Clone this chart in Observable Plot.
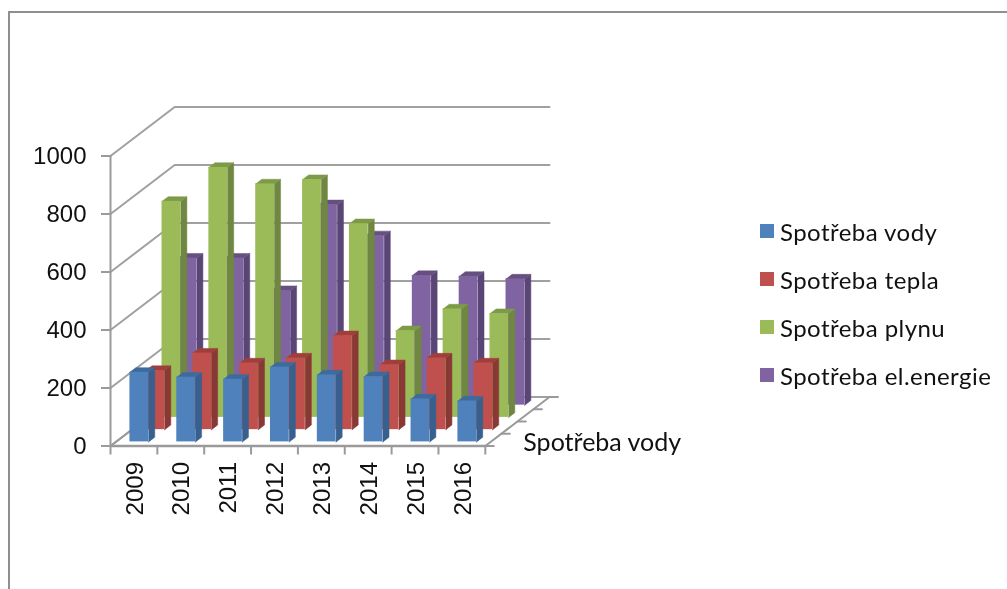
<!DOCTYPE html>
<html>
<head>
<meta charset="utf-8">
<script src="https://cdn.jsdelivr.net/npm/d3@7"></script>
<script src="https://cdn.jsdelivr.net/npm/@observablehq/plot@0.6"></script>
<style>
html,body{margin:0;padding:0;background:#fff;overflow:hidden;width:1007px;height:589px}
#frame{position:absolute;left:8px;top:11px;width:1200px;height:800px;border:2px solid #8f8f8f;box-sizing:border-box}
#chart{position:absolute;left:0;top:0;filter:blur(0.45px)}
#chart svg{background:transparent;display:block}
#legend{position:absolute;left:760px;top:207px;font-family:Lato,sans-serif;font-size:24px;letter-spacing:0.45px;color:#111;filter:blur(0.45px)}
#legend div{display:flex;align-items:center;height:48px;white-space:nowrap}
#legend i{display:inline-block;width:14px;height:14px;margin-right:6px}
</style>
</head>
<body>
<div id="frame"></div>
<div id="chart"></div>
<div id="legend"></div>
<script>
const years = ["2009","2010","2011","2012","2013","2014","2015","2016"];
const seriesNames = ["Spotřeba vody","Spotřeba tepla","Spotřeba plynu","Spotřeba el.energie"];
const voda   = [240,223,216,258,231,225,148,141];
const teplo  = [204,264,230,247,324,224,247,230];
const plyn   = [745,862,805,820,668,299,374,358];
const energie= [507,507,395,691,584,447,444,435];
const yTicks = [0,200,400,600,800,1000];
const depthTicks = [0,0.25,0.5,0.75,1];
const frontColors = ["#4f81bd","#c0504d","#9bbb59","#8064a2"];
const sideColors  = ["#38608f","#8a3836","#6f8740","#5a4676"];
const topColors   = ["#3f6a9c","#9e3f3c","#7c9a47","#66507f"];
const values = [voda,teplo,plyn,energie];

// oblique projection: depth (0 front .. 1 back) shifts the point along the floor diagonal
const depthX = 1.37;    // in category units
const depthY = 169;     // in value units
const px = (c,d) => c + d*depthX;
const py = (v,d) => v + d*depthY;
const nCat = years.length, nSer = seriesNames.length;
const barW = 0.4, barD = 0.38, barOffset = 0.335;  // bar width (category units), depth and offset (series slot units)

function poly(points,id,color){ return points.map(([c,d,v])=>({x:px(c,d),y:py(v,d),id,color})); }

const barMarks = [];
for (let s=nSer-1;s>=0;s--){
  const rows=[], fronts=[];
  values[s].forEach((v,i)=>{
    const c0=i+0.5-barW/2, c1=i+0.5+barW/2;
    const d0=(s+barOffset)/nSer, d1=(s+barOffset+barD)/nSer;
    rows.push(...poly([[c1,d0,0],[c1,d1,0],[c1,d1,v],[c1,d0,v],[c1,d0,0]],`s${i}`,sideColors[s]));
    rows.push(...poly([[c0,d0,v],[c1,d0,v],[c1,d1,v],[c0,d1,v],[c0,d0,v]],`t${i}`,topColors[s]));
    fronts.push({x1:px(c0,d0),x2:px(c1,d0),y1:py(0,d0),y2:py(v,d0)});
  });
  barMarks.push(
    Plot.line(rows,{x:"x",y:"y",z:"id",fill:d=>d.color,stroke:d=>d.color,strokeWidth:0.5,curve:"linear"}),
    Plot.rect(fronts,{x1:"x1",x2:"x2",y1:"y1",y2:"y2",fill:frontColors[s]})
  );
}

const gridColor="#a0a0a0", axisColor="#9a9a9a";
const wallRows=[];
yTicks.forEach(v=>{
  wallRows.push(...poly([[0,0,v],[0,1,v],[nCat,1,v]],`g${v}`));
});
const floorRows=poly([[0,0,0],[0,1,0]],"fl").concat(poly([[nCat,0,0],[nCat,1,0]],"fr"));
const depthTickRows=depthTicks.flatMap(d=>poly([[nCat,d,0],[nCat+0.18,d,0]],`d${d}`));

const chart = Plot.plot({
  width:1007,height:589,
  marginLeft:110,marginRight:458,marginTop:106.5,marginBottom:143.5,
  x:{type:"linear",domain:[0,nCat+depthX],axis:null},
  y:{type:"linear",domain:[0,1000+depthY],axis:null},
  marks:[
    Plot.line(wallRows,{x:"x",y:"y",z:"id",stroke:gridColor,strokeWidth:2}),
    Plot.line(floorRows,{x:"x",y:"y",z:"id",stroke:axisColor,strokeWidth:2}),
    Plot.line(depthTickRows,{x:"x",y:"y",z:"id",stroke:axisColor,strokeWidth:2}),
    ...barMarks,
    Plot.line([[0,0],[0,1000]],{x:d=>d[0],y:d=>d[1],stroke:axisColor,strokeWidth:2}),
    Plot.line([[0,0],[nCat,0]],{x:d=>d[0],y:d=>d[1],stroke:axisColor,strokeWidth:2.5}),
    Plot.axisY({ticks:yTicks,tickSize:9,tickPadding:15,tickFormat:d=>String(d),stroke:axisColor,strokeWidth:2,fill:"#111",fontSize:24,fontFamily:"Liberation Sans",label:null}),
    Plot.axisX({ticks:d3.range(nCat+1),tickSize:9,stroke:axisColor,strokeWidth:2,text:null,label:null}),
    Plot.axisX({ticks:d3.range(nCat).map(i=>i+0.5),tickSize:0,tickPadding:16,tickRotate:-90,tickFormat:d=>years[d-0.5],fill:"#111",fontSize:24,fontFamily:"Liberation Sans",label:null,dx:1}),
    Plot.text([seriesNames[0]],{x:px(nCat,0.125),y:py(0,0.125),text:d=>d,textAnchor:"start",dx:30,dy:3,fontSize:25,fontFamily:"Lato",fill:"#111"})
  ]
});
document.getElementById("chart").appendChild(chart);

const legend=document.getElementById("legend");
seriesNames.forEach((n,i)=>{
  const row=document.createElement("div");
  const sw=document.createElement("i");
  sw.style.background=frontColors[i];
  row.appendChild(sw);
  row.appendChild(document.createTextNode(n));
  legend.appendChild(row);
});
</script>
</body>
</html>
